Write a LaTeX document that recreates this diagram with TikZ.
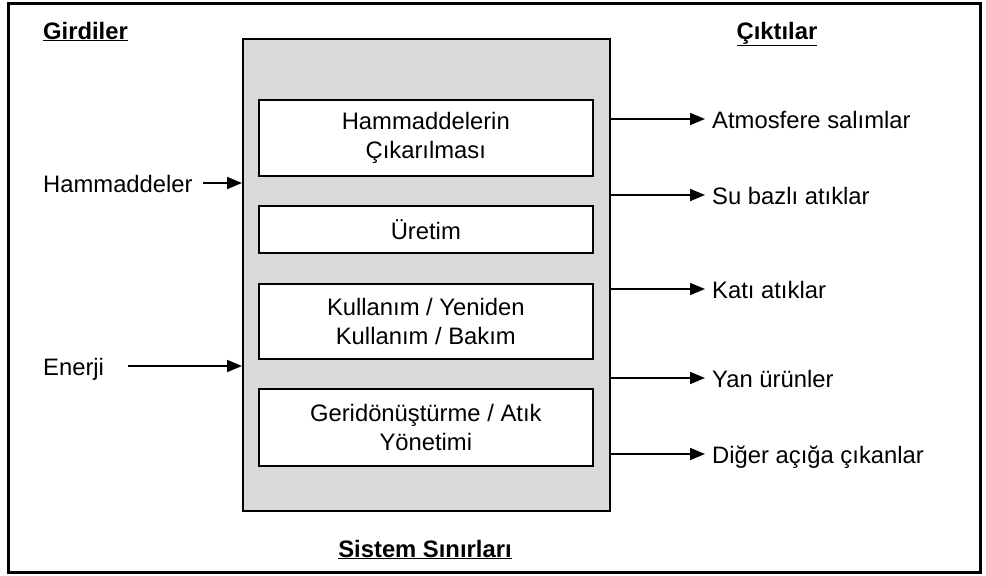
\documentclass[tikz,border=0pt]{standalone}
\usepackage{fontspec}
\setmainfont{Liberation Sans}
\usetikzlibrary{arrows.meta}
\definecolor{boxgray}{HTML}{D9D9D9}
\begin{document}
\begin{tikzpicture}[x=1pt,y=-1pt,
  every node/.style={font=\fontsize{23.8}{28.5}\selectfont, inner sep=0pt},
  stage/.style={draw=black, line width=1.6pt, fill=white, align=center},
  lbl/.style={anchor=base west},
  head/.style={font=\fontsize{23.8}{28.5}\selectfont\bfseries},
  arr/.style={line width=1.8pt, -{Triangle[length=15pt,width=12pt]}}]
\useasboundingbox (0,0) rectangle (986,576);
\fill[white] (0,0) rectangle (986,576);
\draw[line width=3pt] (8,3) rectangle (980,572);
% system box
\node[draw=black, line width=1.6pt, fill=boxgray, minimum width=367pt, minimum height=472pt, anchor=north west] (sys) at (242,38) {};
% stages
\node[stage, minimum width=334pt, minimum height=76pt, anchor=north west] (s1) at (258,99) {Hammaddelerin\\Çıkarılması};
\node[stage, minimum width=334pt, minimum height=47pt, anchor=north west] (s2) at (258,205) {Üretim};
\node[stage, minimum width=334pt, minimum height=75pt, anchor=north west] (s3) at (258,283) {Kullanım / Yeniden\\Kullanım / Bakım};
\node[stage, minimum width=334pt, minimum height=77pt, anchor=north west] (s4) at (258,388) {Geridönüştürme / Atık\\Yönetimi};
% headings
\node[head, anchor=base west] (hin) at (43,39) {\underline{Girdiler}};
\node[head, anchor=base] (hout) at (777,39) {\underline{Çıktılar}};
\node[head, anchor=base] (hsys) at (425,557) {\underline{Sistem Sınırları}};
% inputs
\coordinate (in1e) at (203,183);
\coordinate (in2e) at (128,366);
\node[lbl] (in1) at (43,192) {Hammaddeler};
\node[lbl] (in2) at (43,375) {Enerji};
\draw[arr] (in1e) -- (sys.west |- in1e);
\draw[arr] (in2e) -- (sys.west |- in2e);
% outputs
\coordinate (c1) at (705,119);
\coordinate (c2) at (705,195);
\coordinate (c3) at (705,289);
\coordinate (c4) at (705,378);
\coordinate (c5) at (705,454);
\node[lbl] (o1) at (712,128) {Atmosfere salımlar};
\node[lbl] (o2) at (712,204) {Su bazlı atıklar};
\node[lbl] (o3) at (712,298) {Katı atıklar};
\node[lbl] (o4) at (712,387) {Yan ürünler};
\node[lbl] (o5) at (712,463) {Diğer açığa çıkanlar};
\foreach \c in {c1,c2,c3,c4,c5}
  \draw[arr] (sys.east |- \c) -- (\c);
\end{tikzpicture}
\end{document}
